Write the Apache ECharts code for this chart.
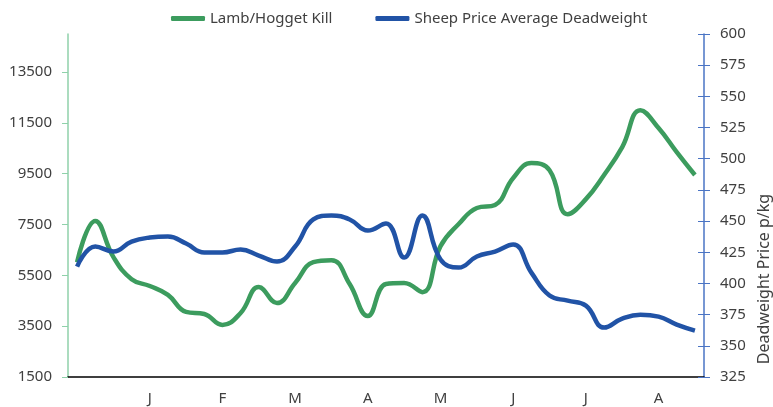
<!DOCTYPE html>
<html>
<head>
<meta charset="utf-8">
<script src="https://cdn.jsdelivr.net/npm/echarts@6/dist/echarts.min.js"></script>
<style>html,body{margin:0;padding:0;background:#fff}#c{width:773px;height:407px}</style>
</head>
<body>
<div id="c"></div>
<script>
var weeks = ['W1','W2','W3','W4','W5','W6','W7','W8','W9','W10','W11','W12','W13','W14','W15','W16','W17','W18','W19','W20','W21','W22','W23','W24','W25','W26','W27','W28','W29','W30','W31','W32','W33','W34','W35'];
var monthLabels = ['J','F','M','A','M','J','J','A'];
var lambKill = [6020,7640,6220,5350,5080,4730,4060,3980,3550,4020,5040,4410,5200,6020,6100,5160,3900,5160,5200,4840,6650,7520,8150,8270,9330,9920,9640,7910,8500,9450,10550,12000,11300,10350,9450];
var sheepPrice = [413.5,429.6,425.6,433.6,436.8,437.6,432,424.8,424.8,427.2,422.4,417.6,429.6,451.3,454.5,451.3,442.4,448.1,420.8,454.5,419.2,412.7,421.6,425.6,431.2,408.7,390.3,386.2,382.2,364.6,371.8,375,373.4,367,362.2];
var leftTicks = [1500,3500,5500,7500,9500,11500,13500];

var font = 'Noto Sans';
var txt = '#404040';
var chart = echarts.init(document.getElementById('c'), null, {renderer:'canvas'});
chart.setOption({
  animation:false,
  legend:{
    left:166, top:6, itemGap:43, itemWidth:34, itemHeight:5, icon:'roundRect',
    textStyle:{fontFamily:font, fontSize:15, color:txt},
    data:['Lamb/Hogget Kill','Sheep Price Average Deadweight']
  },
  grid:{left:68, right:69, top:34, bottom:30, containLabel:false},
  xAxis:{
    type:'category', data:weeks, boundaryGap:true,
    axisLine:{lineStyle:{color:'#000', width:1.5}},
    axisTick:{show:false},
    axisLabel:{
      interval:function(i){return i>0 && i%4===0;},
      formatter:function(v,i){return monthLabels[i/4-1]||'';},
      fontFamily:font, fontSize:15, color:txt, margin:14
    }
  },
  yAxis:[
    {type:'value', min:1500, max:15000, position:'left',
     axisLine:{show:true, lineStyle:{color:'#8fd1aa', width:1.5}},
     axisTick:{show:true, length:6, customValues:leftTicks, lineStyle:{color:'#8fd1aa'}},
     axisLabel:{customValues:leftTicks, formatter:function(v){return String(v);}, fontFamily:font, fontSize:15, color:txt, margin:16},
     splitLine:{show:false}},
    {type:'value', min:325, max:600, interval:25, position:'right',
     axisLine:{show:true, lineStyle:{color:'#4a74c4', width:1.5}},
     axisTick:{show:true, length:6, lineStyle:{color:'#4a74c4'}},
     axisLabel:{fontFamily:font, fontSize:15, color:txt, margin:16},
     splitLine:{show:false}},
    {type:'value', min:325, max:600, interval:25, position:'right',
     axisLine:{show:false},
     axisTick:{show:true, inside:true, length:6, lineStyle:{color:'#4a74c4'}},
     axisLabel:{show:false},
     splitLine:{show:false}}
  ],
  graphic:[{
    type:'text', x:764, y:279, rotation:Math.PI/2,
    style:{text:'Deadweight Price p/kg', font:'16px "Noto Sans"', fill:txt, align:'center', verticalAlign:'middle'}
  }],
  series:[
    {name:'Lamb/Hogget Kill', type:'line', data:lambKill, yAxisIndex:0, smooth:0.45,
     symbol:'none', lineStyle:{color:'#3c9c5e', width:4.5}, itemStyle:{color:'#3c9c5e'}},
    {name:'Sheep Price Average Deadweight', type:'line', data:sheepPrice, yAxisIndex:1, smooth:0.45,
     symbol:'none', lineStyle:{color:'#2153a6', width:4.5}, itemStyle:{color:'#2153a6'}}
  ]
});
</script>
</body>
</html>
